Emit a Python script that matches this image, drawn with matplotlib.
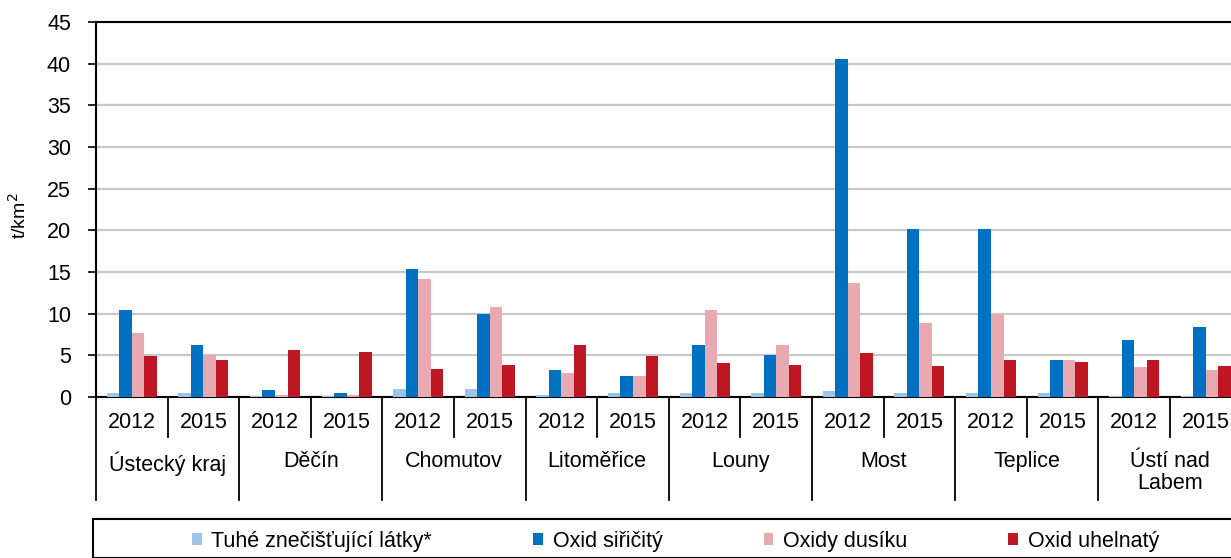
import matplotlib
matplotlib.use("Agg")
import matplotlib.pyplot as plt
from matplotlib.patches import Rectangle
import matplotlib.transforms as mtransforms

plt.rcParams['font.family'] = ['Liberation Sans', 'DejaVu Sans']

districts = ["Ústecký kraj", "Děčín", "Chomutov", "Litoměřice", "Louny",
             "Most", "Teplice", "Ústí nad\nLabem"]
years = ["2012", "2015"]
series_names = ["Tuhé znečišťující látky*", "Oxid siřičitý", "Oxidy dusíku", "Oxid uhelnatý"]
colors = ["#9DC3E6", "#0070C0", "#E8AAB0", "#BE1622"]

# values per (district, year) in order: Ústecký 2012, 2015, Děčín 2012, 2015, ...
tzl = [0.5, 0.5, 0.1, 0.1, 1.0, 1.0, 0.2, 0.5, 0.5, 0.5, 0.7, 0.5, 0.5, 0.5, 0.1, 0.1]
so2 = [10.5, 6.3, 0.8, 0.5, 15.4, 10.0, 3.2, 2.5, 6.3, 5.1, 40.6, 20.1, 20.2, 4.4, 6.8, 8.4]
nox = [7.7, 5.0, 0.2, 0.2, 14.2, 10.8, 2.9, 2.5, 10.4, 6.3, 13.7, 8.9, 10.0, 4.4, 3.6, 3.2]
co  = [4.9, 4.4, 5.6, 5.4, 3.4, 3.9, 6.3, 4.9, 4.1, 3.9, 5.3, 3.7, 4.4, 4.2, 4.4, 3.7]
series = [tzl, so2, nox, co]

FS = 15.5
W, H = 1231, 558
fig = plt.figure(figsize=(W / 100, H / 100), dpi=100)
left_px, zero_px, top_px = 96, 397, 22
n = len(tzl)
group_px = 71.6
axw = n * group_px
ax = fig.add_axes([left_px / W, (H - zero_px) / H, axw / W, (zero_px - top_px) / H])

bw = 0.175
offsets = [-1.5, -0.5, 0.5, 1.5]
xs = [i + 0.5 for i in range(n)]
handles = []
for s, vals, c, off in zip(series_names, series, colors, offsets):
    h = ax.bar([x + off * bw for x in xs], vals, width=bw, color=c, label=s, zorder=3)
    handles.append(h)

ax.set_xlim(0, n)
ax.set_ylim(0, 45)
ax.set_yticks(range(0, 46, 5))
ax.yaxis.grid(True, color="#C8C8C8", linewidth=1.6, zorder=0)
ax.tick_params(axis='y', labelsize=FS, length=6, width=1.2, pad=12)
ax.set_xticks([])
for sp in ['left', 'top', 'bottom']:
    ax.spines[sp].set_color('black')
    ax.spines[sp].set_linewidth(1.5)
ax.spines['right'].set_visible(False)
ax.set_ylabel("t/km$^2$", fontsize=14)
axh = zero_px - top_px
ax.yaxis.set_label_coords((30 - left_px) / axw, (zero_px - 216) / axh)

# hierarchical x labels
trans = mtransforms.blended_transform_factory(ax.transData, ax.transAxes)
short = -40 / axh
long_ = -103 / axh
for k in range(n + 1):
    y1 = long_ if k % 2 == 0 else short
    ax.plot([k, k], [0, y1], color='black', lw=1.3, transform=trans, clip_on=False)
for i in range(n):
    ax.text(i + 0.5, -(423 - zero_px) / axh, years[i % 2], transform=trans,
            ha='center', va='center', fontsize=FS)
for j, d in enumerate(districts):
    ax.text(2 * j + 1, -(451 - zero_px) / axh, d, transform=trans, ha='center', va='top',
            fontsize=FS, linespacing=1.08)

# legend frame and legend
fig.patches.append(Rectangle((93 / W, 0), 1.2, (H - 519) / H, transform=fig.transFigure,
                             fill=False, edgecolor='black', linewidth=1.5))
fig.legend(handles=handles, labels=series_names, ncol=4, frameon=False,
           loc='center left', bbox_to_anchor=(192 / W, 1 - 541 / H), fontsize=FS,
           handlelength=0.45, handleheight=0.45, handletextpad=0.45, columnspacing=4.7,
           borderpad=0, borderaxespad=0)

fig.savefig("out.png", dpi=100)
